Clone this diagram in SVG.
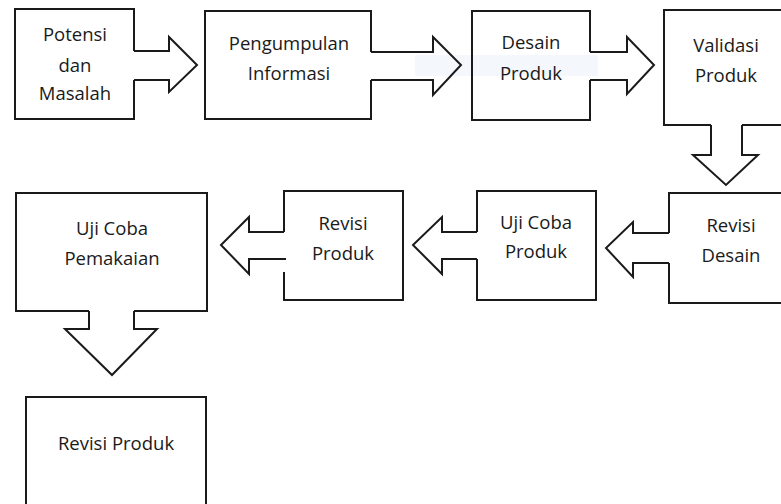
<svg xmlns="http://www.w3.org/2000/svg" width="781" height="504" viewBox="0 0 781 504">
<style>
.b{fill:none;stroke:#1a1a1a;stroke-width:2;stroke-linejoin:miter}
.c{fill:none;stroke:#1a1a1a;stroke-width:2;stroke-linejoin:miter}
text{font-family:"Open Sans","Noto Sans","Liberation Sans",sans-serif;font-size:18.5px;fill:#1a1a1a;text-anchor:middle}
</style>
<rect width="781" height="504" fill="#ffffff"/>
<rect x="415" y="55" width="183" height="21" fill="#f4f7fc"/>
<g id="n1">
<path class="b" d="M134,51 V9 H15 V119 H134 V80"/>
<text x="75" y="41">Potensi</text>
<text x="75" y="72">dan</text>
<text x="75" y="100">Masalah</text>
</g>
<g id="n2">
<path class="b" d="M371,52 V11 H205 V119 H371 V80"/>
<text x="289" y="50">Pengumpulan</text>
<text x="289" y="80">Informasi</text>
</g>
<g id="n3">
<path class="b" d="M590,52 V11 H472 V120 H590 V80"/>
<text x="531" y="49">Desain</text>
<text x="531" y="80">Produk</text>
</g>
<g id="n4">
<path class="b" d="M782,10 H664 V125 H711 M742,125 H782"/>
<text x="726" y="52">Validasi</text>
<text x="726" y="82">Produk</text>
</g>
<g id="n5">
<path class="b" d="M782,193 H669 V233 M669,263 V303 H782"/>
<text x="731" y="232">Revisi</text>
<text x="731" y="262">Desain</text>
</g>
<g id="n6">
<path class="b" d="M477,232 V191 H596 V300 H477 V259"/>
<text x="536" y="229">Uji Coba</text>
<text x="536" y="258">Produk</text>
</g>
<g id="n7">
<path class="b" d="M284,232 V191 H403 V300 H284 V272"/>
<text x="343" y="230">Revisi</text>
<text x="343" y="260">Produk</text>
</g>
<g id="n8">
<path class="b" d="M89,311 H16 V193 H207 V311 H134"/>
<text x="112" y="235">Uji Coba</text>
<text x="112" y="265">Pemakaian</text>
</g>
<g id="n9">
<path class="b" d="M26,505 V397 H206 V505"/>
<text x="116" y="450">Revisi Produk</text>
</g>
<g id="connectors">
<polyline class="c" points="134,51 169,51 169,37 197,65 169,92 169,80 134,80"/>
<polyline class="c" points="371,52 433,52 433,37 461,65 433,95 433,80 371,80"/>
<polyline class="c" points="590,52 627,52 627,37 654,65 627,94 627,80 590,80"/>
<polyline class="c" points="711,125 711,155 693,155 726,185 758,155 742,155 742,125"/>
<polyline class="c" points="669,233 633,233 633,222 606,248 633,277 633,263 669,263"/>
<polyline class="c" points="477,232 442,232 442,217 413,245 442,274 442,259 477,259"/>
<polyline class="c" points="284,232 249,232 249,217 221,245 249,274 249,259 286,259"/>
<polyline class="c" points="89,311 89,329 65,329 112,375 157,329 134,329 134,311"/>
</g>
</svg>
